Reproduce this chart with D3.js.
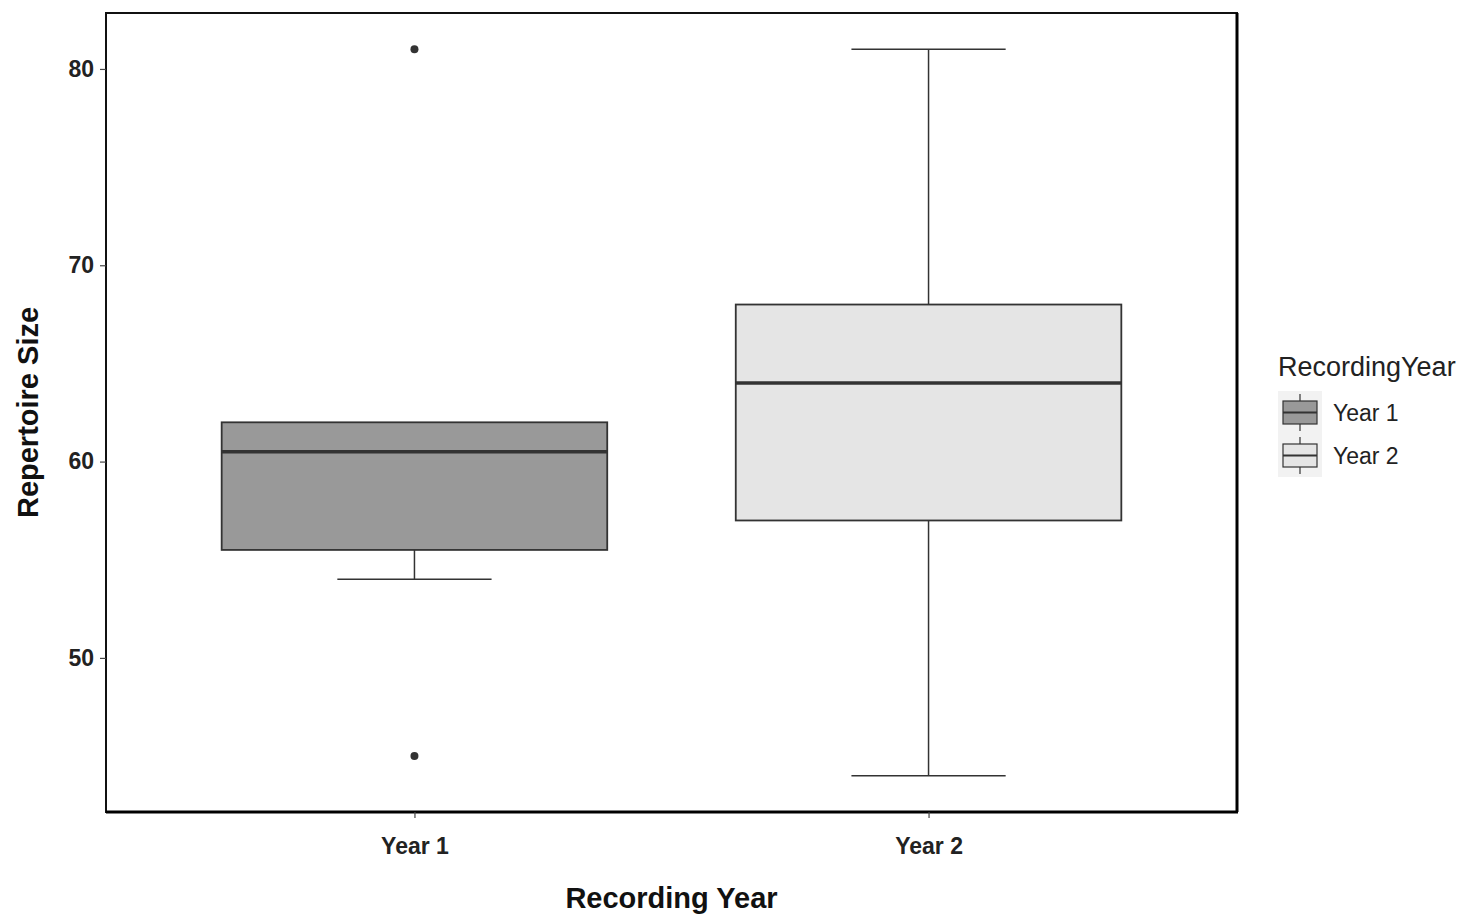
<!DOCTYPE html>
<html>
<head>
<meta charset="utf-8">
<script src="https://cdn.jsdelivr.net/npm/d3@7"></script>
<style>
  html, body { margin: 0; padding: 0; background: #fff; }
  svg { display: block; font-family: "Liberation Sans", Arial, sans-serif; }
</style>
</head>
<body>
<svg id="chart" width="1464" height="917"></svg>
<script>
// Repertoire size summary per recording year
const categories = ["Year 1", "Year 2"];
const lowerWhisker = [54, 44];
const q1 = [55.5, 57];
const median = [60.5, 64];
const q3 = [62, 68];
const upperWhisker = [62, 81];
const outliers = [[81, 45], []];
const fills = ["#999999", "#e5e5e5"];
const yTicks = [50, 60, 70, 80];

const svg = d3.select("#chart");
const panel = { left: 106, right: 1237, top: 13, bottom: 812 };

// Discrete x positions with ggplot-style 0.6 expansion on each side
const x = d3.scaleLinear().domain([0.4, 2.6]).range([panel.left, panel.right]);
const y = d3.scaleLinear().domain([42.15, 82.85]).range([panel.bottom, panel.top]);
const boxW = x(0.75) - x(0);
const capW = x(0.3) - x(0);

const boxes = categories.map((c, i) => ({
  cat: c, pos: i + 1, lo: lowerWhisker[i], q1: q1[i], med: median[i],
  q3: q3[i], hi: upperWhisker[i], out: outliers[i], fill: fills[i]
}));

const g = svg.append("g");

boxes.forEach(b => {
  const cx = x(b.pos);
  const bg = g.append("g");
  // whiskers
  bg.append("line").attr("x1", cx).attr("x2", cx).attr("y1", y(b.q3)).attr("y2", y(b.hi))
    .attr("stroke", "#333").attr("stroke-width", 1.5);
  bg.append("line").attr("x1", cx).attr("x2", cx).attr("y1", y(b.q1)).attr("y2", y(b.lo))
    .attr("stroke", "#333").attr("stroke-width", 1.5);
  // whisker caps (only where the whisker extends beyond the box)
  if (b.hi > b.q3) {
    bg.append("line").attr("x1", cx - capW / 2).attr("x2", cx + capW / 2)
      .attr("y1", y(b.hi)).attr("y2", y(b.hi)).attr("stroke", "#333").attr("stroke-width", 1.5);
  }
  if (b.lo < b.q1) {
    bg.append("line").attr("x1", cx - capW / 2).attr("x2", cx + capW / 2)
      .attr("y1", y(b.lo)).attr("y2", y(b.lo)).attr("stroke", "#333").attr("stroke-width", 1.5);
  }
  // box
  bg.append("rect").attr("x", cx - boxW / 2).attr("width", boxW)
    .attr("y", y(b.q3)).attr("height", y(b.q1) - y(b.q3))
    .attr("fill", b.fill).attr("stroke", "#333").attr("stroke-width", 1.8);
  // median
  bg.append("line").attr("x1", cx - boxW / 2).attr("x2", cx + boxW / 2)
    .attr("y1", y(b.med)).attr("y2", y(b.med)).attr("stroke", "#333").attr("stroke-width", 3.5);
  // outliers
  bg.selectAll("circle.out").data(b.out).enter().append("circle")
    .attr("class", "out").attr("cx", cx).attr("cy", d => y(d)).attr("r", 4).attr("fill", "#333");
});

// panel border
svg.append("rect").attr("x", panel.left).attr("y", panel.top)
  .attr("width", panel.right - panel.left).attr("height", panel.bottom - panel.top)
  .attr("fill", "none").attr("stroke", "#111").attr("stroke-width", 2);
svg.append("line").attr("x1", panel.left).attr("x2", panel.right + 1)
  .attr("y1", panel.bottom).attr("y2", panel.bottom).attr("stroke", "#000").attr("stroke-width", 3);
svg.append("line").attr("x1", panel.right).attr("x2", panel.right)
  .attr("y1", panel.top).attr("y2", panel.bottom).attr("stroke", "#000").attr("stroke-width", 3);

// y axis
const yAxis = d3.axisLeft(y).tickValues(yTicks).tickSize(6).tickPadding(6);
const ya = svg.append("g").attr("transform", `translate(${panel.left},0)`).call(yAxis);
ya.select(".domain").remove();
ya.selectAll(".tick line").attr("stroke", "#444").attr("stroke-width", 1.2);
ya.selectAll(".tick text").attr("font-size", 23).attr("font-weight", "bold")
  .attr("fill", "#222").attr("font-family", "Liberation Sans, Arial, sans-serif");

// x axis
const xAxis = d3.axisBottom(x).tickValues([1, 2]).tickFormat((d) => categories[d - 1])
  .tickSize(6).tickPadding(20);
const xa = svg.append("g").attr("transform", `translate(0,${panel.bottom})`).call(xAxis);
xa.select(".domain").remove();
xa.selectAll(".tick line").attr("stroke", "#444").attr("stroke-width", 1.2);
xa.selectAll(".tick text").attr("font-size", 23).attr("font-weight", "bold")
  .attr("fill", "#222").attr("font-family", "Liberation Sans, Arial, sans-serif");

// axis titles
svg.append("text").attr("x", (panel.left + panel.right) / 2).attr("y", 908)
  .attr("text-anchor", "middle").attr("font-size", 29).attr("font-weight", "bold")
  .attr("fill", "#111").text("Recording Year");
svg.append("text").attr("transform", `translate(38,${(panel.top + panel.bottom) / 2}) rotate(-90)`)
  .attr("text-anchor", "middle").attr("font-size", 29).attr("font-weight", "bold")
  .attr("fill", "#111").text("Repertoire Size");

// legend
const lg = svg.append("g").attr("transform", "translate(1278,0)");
lg.append("text").attr("x", 0).attr("y", 376).attr("font-size", 27).attr("fill", "#222")
  .text("RecordingYear");
const keyTop = 391, keyH = 43, keyW = 44;
boxes.forEach((b, i) => {
  const ky = keyTop + i * keyH;
  const kg = lg.append("g").attr("transform", `translate(0,${ky})`);
  kg.append("rect").attr("width", keyW).attr("height", keyH).attr("fill", "#f2f2f2");
  const kcx = keyW / 2;
  kg.append("line").attr("x1", kcx).attr("x2", kcx).attr("y1", 3).attr("y2", keyH - 3)
    .attr("stroke", "#333").attr("stroke-width", 1.2);
  kg.append("rect").attr("x", 5).attr("y", 10).attr("width", keyW - 10).attr("height", keyH - 20)
    .attr("fill", b.fill).attr("stroke", "#333").attr("stroke-width", 1.2);
  kg.append("line").attr("x1", 5).attr("x2", keyW - 5).attr("y1", keyH / 2).attr("y2", keyH / 2)
    .attr("stroke", "#333").attr("stroke-width", 2);
  lg.append("text").attr("x", 55).attr("y", ky + keyH / 2 + 8).attr("font-size", 23)
    .attr("fill", "#222").text(b.cat);
});
</script>
</body>
</html>
